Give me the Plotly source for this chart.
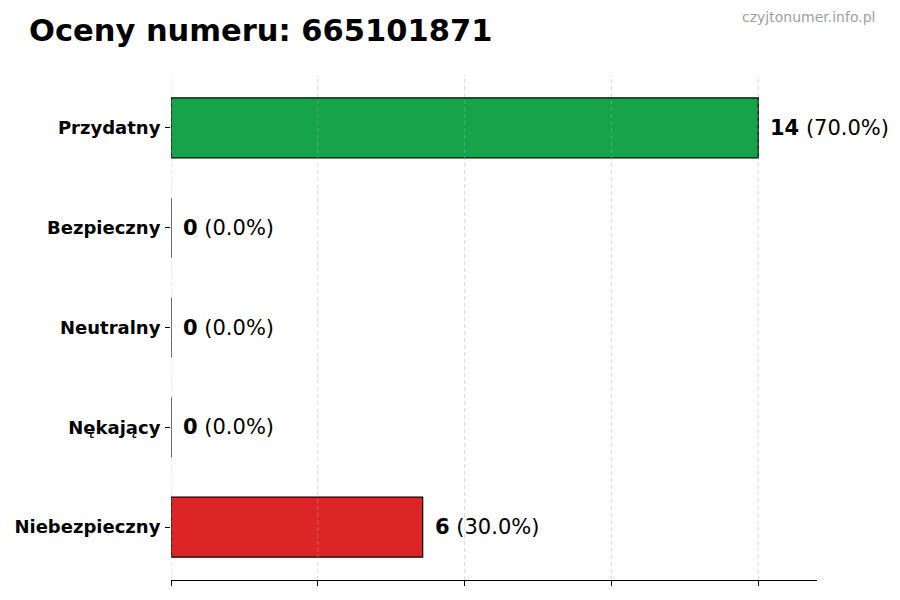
import plotly.graph_objects as go

# Ratings data
categories = ["Przydatny", "Bezpieczny", "Neutralny", "Nękający", "Niebezpieczny"]
counts = [14, 0, 0, 0, 6]
colors = ["#16a34a", "#16a34a", "#9ca3af", "#f59e0b", "#dc2626"]
grid_ticks = [0, 3.5, 7, 10.5, 14]

total = sum(counts)
labels = [f"<b>{c}</b> ({c / total * 100:.1f}%)" for c in counts]

# plot area (page body adds an 8px offset)
L, T, W, H = 163, 67, 646, 505

fig = go.Figure()
fig.add_trace(go.Bar(
    x=counts, y=categories, orientation="h",
    marker=dict(color=colors, line=dict(color="black", width=1.2)),
    width=0.6, showlegend=False, hoverinfo="skip",
))

# value labels to the right of bars
for cat, c, lab in zip(categories, counts, labels):
    fig.add_annotation(x=c, y=cat, text=lab, showarrow=False, xanchor="left",
                       xshift=10, font=dict(family="DejaVu Sans", size=21, color="black"))

# dashed grid lines drawn above the bars, like the original
for t in grid_ticks:
    fig.add_shape(type="line", x0=t, x1=t, y0=0, y1=1, xref="x", yref="paper",
                  line=dict(color="rgba(170,170,170,0.45)", width=1, dash="4px,3px"), layer="above")

fig.update_layout(
    width=900, height=600,
    plot_bgcolor="white", paper_bgcolor="white",
    margin=dict(l=L, r=900 - L - W, t=T, b=600 - T - H),
    font=dict(family="DejaVu Sans", color="black"),
    xaxis=dict(range=[0, 15.4], tickvals=grid_ticks, showticklabels=False,
               ticks="outside", ticklen=5, tickcolor="black", showgrid=False,
               showline=True, linecolor="black", linewidth=1.2, zeroline=False,
               automargin=False),
    yaxis=dict(categoryorder="array", categoryarray=categories[::-1],
               range=[-0.53, 4.53], ticks="outside", ticklen=5, tickcolor="black",
               ticklabelstandoff=1, automargin=False,
               showline=False, showgrid=False, zeroline=False,
               tickfont=dict(family="DejaVu Sans", size=18, weight="bold")),
)

fig.add_annotation(text="<b>Oceny numeru: 665101871</b>", xref="paper", yref="paper",
                   x=(19 - L) / W, y=1 + (T - 23) / H, xanchor="left", yanchor="middle",
                   showarrow=False, font=dict(family="DejaVu Sans", size=30.5, color="black"))
fig.add_annotation(text="czyjtonumer.info.pl", xref="paper", yref="paper",
                   x=(869 - L) / W, y=1 + (T - 9) / H, xanchor="right", yanchor="middle",
                   showarrow=False, font=dict(family="DejaVu Sans", size=14, color="#a0a0a0"))

fig.write_html("out.html")
